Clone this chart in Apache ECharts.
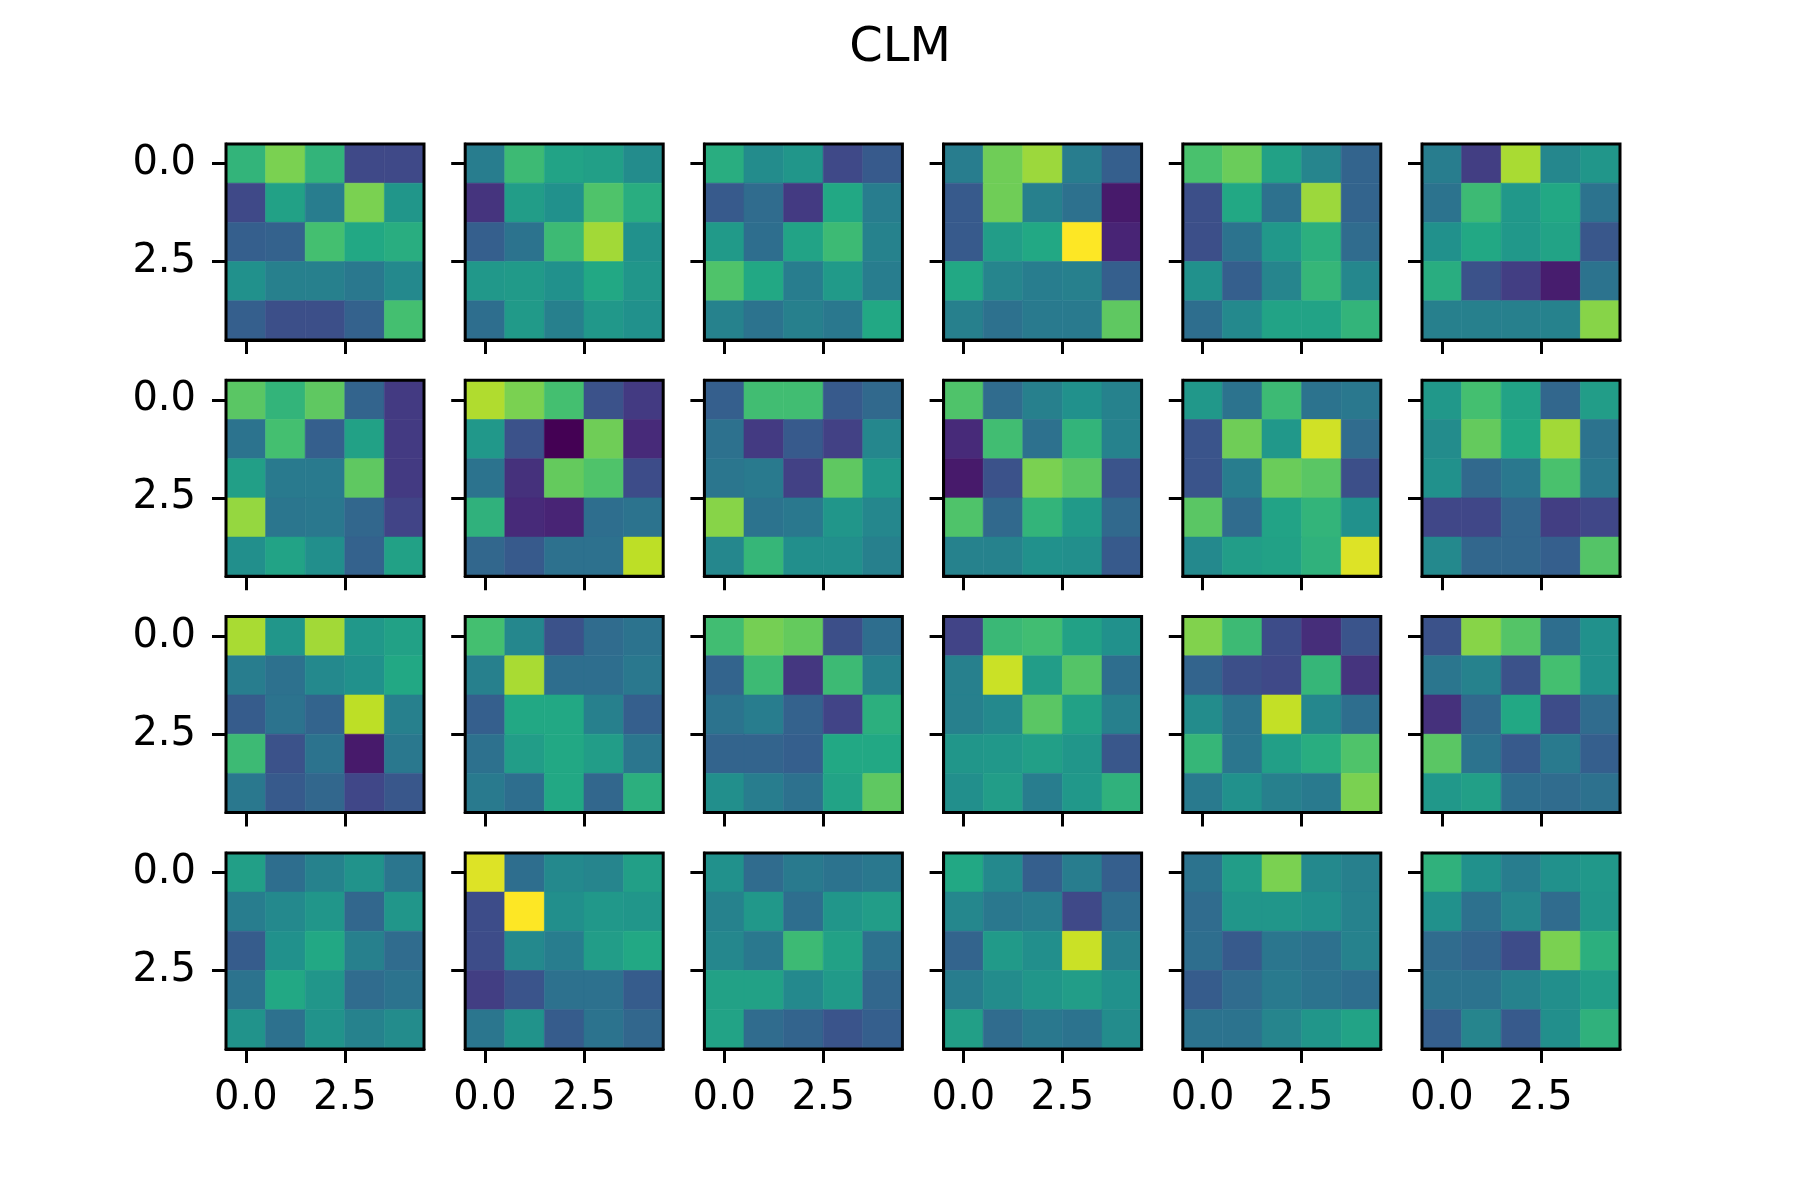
<!DOCTYPE html>
<html>
<head>
<meta charset="utf-8">
<script src="https://cdn.jsdelivr.net/npm/echarts@6/dist/echarts.min.js"></script>
<style>
  html, body { margin: 0; padding: 0; background: #fff; }
  #chart { width: 1800px; height: 1200px; }
</style>
</head>
<body>
<div id="chart"></div>
<script>
// ---- DATA (5x5 matrices, row 0 = top) ----
const titleText = 'CLM';
const tickValues = [0, 2.5];

const p00 = [[0.65,0.80,0.65,0.22,0.22],[0.22,0.57,0.42,0.80,0.52],[0.30,0.31,0.70,0.60,0.62],[0.50,0.43,0.43,0.40,0.47],[0.30,0.24,0.24,0.31,0.70]];
const p01 = [[0.42,0.68,0.58,0.56,0.48],[0.15,0.55,0.50,0.72,0.62],[0.30,0.38,0.68,0.86,0.50],[0.53,0.54,0.50,0.60,0.52],[0.36,0.54,0.43,0.53,0.50]];
const p02 = [[0.62,0.48,0.52,0.22,0.28],[0.28,0.35,0.17,0.60,0.42],[0.54,0.36,0.58,0.68,0.44],[0.72,0.60,0.42,0.54,0.42],[0.44,0.38,0.43,0.40,0.60]];
const p03 = [[0.42,0.78,0.85,0.42,0.30],[0.28,0.78,0.43,0.37,0.07],[0.28,0.55,0.60,1.00,0.10],[0.60,0.45,0.42,0.43,0.30],[0.43,0.37,0.41,0.41,0.75]];
const p04 = [[0.71,0.77,0.57,0.45,0.32],[0.24,0.60,0.37,0.85,0.32],[0.24,0.38,0.53,0.63,0.35],[0.50,0.30,0.45,0.66,0.46],[0.36,0.47,0.58,0.58,0.65]];
const p05 = [[0.42,0.18,0.87,0.46,0.52],[0.38,0.68,0.53,0.60,0.38],[0.50,0.60,0.53,0.58,0.27],[0.62,0.25,0.18,0.08,0.38],[0.43,0.43,0.43,0.44,0.82]];

const p10 = [[0.74,0.65,0.75,0.32,0.17],[0.38,0.70,0.30,0.57,0.17],[0.56,0.41,0.41,0.75,0.17],[0.84,0.39,0.40,0.33,0.20],[0.49,0.58,0.49,0.31,0.57]];
const p11 = [[0.88,0.80,0.70,0.25,0.17],[0.53,0.25,0.00,0.78,0.12],[0.38,0.14,0.76,0.72,0.23],[0.64,0.12,0.10,0.36,0.38],[0.33,0.28,0.37,0.37,0.90]];
const p12 = [[0.30,0.69,0.69,0.28,0.34],[0.37,0.17,0.28,0.19,0.46],[0.39,0.41,0.19,0.75,0.53],[0.82,0.38,0.40,0.52,0.46],[0.46,0.66,0.49,0.49,0.43]];
const p13 = [[0.72,0.35,0.43,0.50,0.44],[0.12,0.69,0.37,0.65,0.44],[0.07,0.25,0.80,0.74,0.26],[0.72,0.34,0.65,0.54,0.34],[0.44,0.44,0.50,0.49,0.28]];
const p14 = [[0.53,0.38,0.68,0.38,0.40],[0.26,0.78,0.53,0.93,0.35],[0.26,0.42,0.77,0.74,0.24],[0.74,0.35,0.58,0.65,0.50],[0.47,0.55,0.57,0.64,0.95]];
const p15 = [[0.53,0.70,0.58,0.33,0.55],[0.48,0.76,0.60,0.86,0.38],[0.50,0.34,0.40,0.71,0.40],[0.21,0.21,0.33,0.18,0.21],[0.47,0.33,0.33,0.30,0.73]];

const p20 = [[0.87,0.52,0.86,0.53,0.57],[0.42,0.37,0.47,0.50,0.60],[0.29,0.38,0.32,0.90,0.43],[0.68,0.25,0.38,0.07,0.40],[0.40,0.28,0.33,0.21,0.27]];
const p21 = [[0.70,0.46,0.25,0.35,0.38],[0.43,0.87,0.36,0.36,0.40],[0.30,0.60,0.60,0.43,0.30],[0.37,0.55,0.60,0.55,0.39],[0.41,0.36,0.60,0.33,0.63]];
const p22 = [[0.69,0.79,0.76,0.24,0.36],[0.32,0.68,0.16,0.68,0.43],[0.38,0.42,0.31,0.20,0.63],[0.32,0.32,0.30,0.60,0.60],[0.49,0.42,0.37,0.58,0.75]];
const p23 = [[0.20,0.67,0.69,0.57,0.50],[0.43,0.92,0.55,0.73,0.36],[0.43,0.47,0.74,0.57,0.43],[0.52,0.53,0.56,0.52,0.27],[0.49,0.55,0.42,0.53,0.64]];
const p24 = [[0.81,0.68,0.23,0.13,0.26],[0.32,0.24,0.22,0.66,0.15],[0.48,0.38,0.91,0.46,0.36],[0.66,0.39,0.56,0.62,0.72],[0.41,0.50,0.43,0.41,0.80]];
const p25 = [[0.25,0.82,0.73,0.36,0.50],[0.39,0.44,0.25,0.70,0.50],[0.14,0.34,0.60,0.23,0.35],[0.74,0.38,0.28,0.41,0.30],[0.53,0.56,0.36,0.35,0.37]];

const p30 = [[0.56,0.36,0.44,0.51,0.39],[0.42,0.47,0.52,0.33,0.52],[0.29,0.50,0.60,0.43,0.35],[0.38,0.60,0.52,0.35,0.38],[0.51,0.37,0.51,0.44,0.48]];
const p31 = [[0.95,0.36,0.47,0.45,0.56],[0.23,1.00,0.49,0.53,0.52],[0.23,0.47,0.42,0.55,0.60],[0.18,0.26,0.37,0.37,0.29],[0.39,0.51,0.29,0.38,0.33]];
const p32 = [[0.50,0.35,0.41,0.38,0.40],[0.44,0.53,0.36,0.52,0.55],[0.46,0.40,0.68,0.57,0.37],[0.57,0.57,0.47,0.54,0.33],[0.58,0.35,0.32,0.26,0.30]];
const p33 = [[0.60,0.47,0.30,0.42,0.30],[0.46,0.40,0.42,0.22,0.36],[0.32,0.54,0.49,0.92,0.43],[0.42,0.48,0.52,0.55,0.50],[0.56,0.35,0.40,0.38,0.48]];
const p34 = [[0.38,0.55,0.80,0.47,0.43],[0.35,0.52,0.52,0.50,0.44],[0.36,0.28,0.39,0.37,0.44],[0.29,0.35,0.41,0.38,0.36],[0.38,0.38,0.45,0.52,0.58]];
const p35 = [[0.64,0.50,0.42,0.50,0.53],[0.50,0.37,0.46,0.35,0.52],[0.35,0.32,0.23,0.80,0.63],[0.38,0.38,0.44,0.49,0.55],[0.30,0.45,0.28,0.49,0.64]];

const panelRows = [
  [p00, p01, p02, p03, p04, p05],
  [p10, p11, p12, p13, p14, p15],
  [p20, p21, p22, p23, p24, p25],
  [p30, p31, p32, p33, p34, p35]
];

// viridis colormap stops
const viridis = ['#440154','#482475','#414487','#355f8d','#2a788e','#21918c','#22a884','#44bf70','#7ad151','#bddf26','#fde725'];

// ---- LAYOUT ----
const NR = 4, NC = 6;
const gLeft = 226, gTop = 144, gW = 198, gH = 196, stepX = 239.2, stepY = 236.3;
const font = 'DejaVu Sans';

const grids = [], xAxes = [], yAxes = [], series = [];
let idx = 0;
for (let r = 0; r < NR; r++) {
  for (let c = 0; c < NC; c++) {
    const m = panelRows[r][c];
    grids.push({
      left: gLeft + c * stepX, top: gTop + r * stepY, width: gW, height: gH,
      show: true, borderColor: '#000', borderWidth: 3, backgroundColor: 'transparent', z: 10
    });
    xAxes.push({
      type: 'value', gridIndex: idx, min: -0.5, max: 4.5, position: 'bottom',
      splitLine: { show: false },
      axisLine: { show: true, onZero: false, lineStyle: { color: '#000', width: 3 } },
      axisTick: { show: true, customValues: tickValues, length: 14, inside: false, lineStyle: { color: '#000', width: 3 } },
      axisLabel: { show: r === NR - 1, customValues: tickValues, margin: 30, fontSize: 40, color: '#000', fontFamily: font,
                   formatter: v => Number(v).toFixed(1) }
    });
    yAxes.push({
      type: 'value', gridIndex: idx, min: -0.5, max: 4.5, inverse: true, position: 'left',
      splitLine: { show: false },
      axisLine: { show: true, onZero: false, lineStyle: { color: '#000', width: 3 } },
      axisTick: { show: true, customValues: tickValues, length: 14, inside: false, lineStyle: { color: '#000', width: 3 } },
      axisLabel: { show: c === 0, customValues: tickValues, margin: 30, fontSize: 40, color: '#000', fontFamily: font,
                   padding: [16, 0, 0, 0],
                   formatter: v => Number(v).toFixed(1) }
    });
    const data = [];
    for (let i = 0; i < 5; i++) for (let j = 0; j < 5; j++) data.push([j, i, m[i][j]]);
    series.push({
      type: 'custom', xAxisIndex: idx, yAxisIndex: idx, data: data,
      encode: { x: 0, y: 1 },
      renderItem: function (params, api) {
        const x = api.value(0), y = api.value(1);
        const p1 = api.coord([x - 0.5, y - 0.5]);
        const p2 = api.coord([x + 0.5, y + 0.5]);
        const col = api.visual('color');
        return {
          type: 'rect',
          shape: { x: Math.min(p1[0], p2[0]), y: Math.min(p1[1], p2[1]),
                   width: Math.abs(p2[0] - p1[0]), height: Math.abs(p2[1] - p1[1]) },
          style: { fill: col, stroke: col, lineWidth: 0.6 }
        };
      },
      animation: false
    });
    idx++;
  }
}

const chart = echarts.init(document.getElementById('chart'), null, { renderer: 'canvas' });
chart.setOption({
  backgroundColor: '#fff',
  animation: false,
  title: { text: titleText, left: 'center', top: 20, textStyle: { fontSize: 48, fontWeight: 'normal', color: '#000', fontFamily: font } },
  visualMap: { type: 'continuous', show: false, min: 0, max: 1, dimension: 2, inRange: { color: viridis } },
  grid: grids, xAxis: xAxes, yAxis: yAxes, series: series
});
</script>
</body>
</html>
